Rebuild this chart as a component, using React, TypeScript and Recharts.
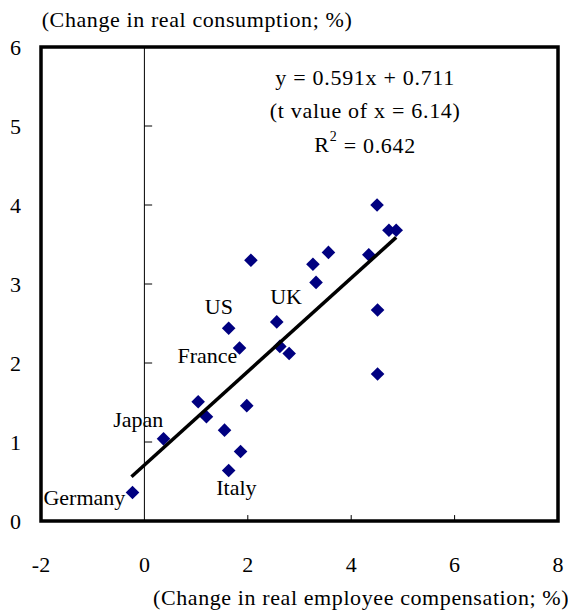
import React from "react";
import {
  ScatterChart,
  Scatter,
  XAxis,
  YAxis,
  ReferenceLine,
  ReferenceArea,
} from "recharts";

// Data (change in real employee compensation %, change in real consumption %)
const compensation = [4.5, 4.73, 4.87, 3.56, 4.34, 2.06, 3.26, 3.32, 4.51, 2.56, 1.63, 1.84, 2.62, 2.8, 4.51, 1.04, 1.98, 1.2, 1.55, 0.37, 1.86, 1.63, -0.23];
const consumption = [4.0, 3.68, 3.68, 3.4, 3.37, 3.3, 3.25, 3.02, 2.67, 2.52, 2.44, 2.19, 2.21, 2.12, 1.86, 1.51, 1.46, 1.32, 1.15, 1.04, 0.88, 0.64, 0.36];

const fitX = [-0.25, 4.87];
const fitY = [0.56, 3.59];

const xTicks = [-2, 0, 2, 4, 6, 8];
const yTicks = [0, 1, 2, 3, 4, 5, 6];
const innerXTicks = [2, 4, 6];
const innerYTicks = [1, 2, 3, 4, 5];

const countryNames = ["Germany", "Italy", "Japan", "France", "US", "UK"];
const countryLabelX = [-0.37, 1.78, -0.12, 1.22, 1.44, 2.74];
const countryLabelY = [0.3, 0.42, 1.28, 2.1, 2.71, 2.84];

const equationLines = ["y = 0.591x + 0.711", "(t value of x = 6.14)", "R2 = 0.642"];
const equationX = 4.27;
const equationY = [5.61, 5.19, 4.76];

const points = compensation.map((x, i) => ({ x, y: consumption[i] }));
const fitLine = fitX.map((x, i) => ({ x, y: fitY[i] }));
const countryLabels = countryNames.map((name, i) => ({
  x: countryLabelX[i],
  y: countryLabelY[i],
  name,
  anchor: i === 0 ? "end" : "middle",
}));
const equation = equationLines.map((name, i) => ({ x: equationX, y: equationY[i], name }));

const FONT = '"Liberation Serif", "Times New Roman", serif';
const FS = 22;
const NAVY = "#000080";

const Diamond = (props: any) => {
  const { cx, cy } = props;
  if (cx == null || cy == null) return null;
  const h = 6.8;
  return (
    <polygon
      points={`${cx},${cy - h} ${cx + h},${cy} ${cx},${cy + h} ${cx - h},${cy}`}
      fill={NAVY}
    />
  );
};

const CountryText = (props: any) => {
  const { cx, cy, payload } = props;
  if (cx == null || cy == null) return null;
  return (
    <text
      x={cx}
      y={cy}
      textAnchor={payload.anchor}
      dominantBaseline="central"
      fontFamily={FONT}
      fontSize={FS}
      fill="#000"
    >
      {payload.name}
    </text>
  );
};

const EquationText = (props: any) => {
  const { cx, cy, payload } = props;
  if (cx == null || cy == null) return null;
  const name: string = payload.name;
  if (name.startsWith("R2")) {
    return (
      <text
        x={cx}
        y={cy}
        textAnchor="middle"
        dominantBaseline="central"
        fontFamily={FONT}
        fontSize={FS}
        letterSpacing={0.7}
        fill="#000"
      >
        R
        <tspan dy={-9} fontSize={14}>
          2
        </tspan>
        <tspan dy={9}>{name.slice(2)}</tspan>
      </text>
    );
  }
  return (
    <text
      x={cx}
      y={cy}
      textAnchor="middle"
      dominantBaseline="central"
      fontFamily={FONT}
      fontSize={FS}
      letterSpacing={0.7}
      fill="#000"
    >
      {name}
    </text>
  );
};

const XTick = (props: any) => {
  const { x, y, payload } = props;
  return (
    <text x={x} y={y + 43} textAnchor="middle" dominantBaseline="central" fontFamily={FONT} fontSize={FS} fill="#000">
      {payload.value}
    </text>
  );
};

const YTick = (props: any) => {
  const { y, payload } = props;
  return (
    <text x={13} y={y} textAnchor="end" dominantBaseline="central" fontFamily={FONT} fontSize={FS} fill="#000">
      {payload.value}
    </text>
  );
};

const NoShape = () => <g />;

export default function App() {
  return (
    <div style={{ width: 568, height: 604 }}>
      <ScatterChart width={568} height={604} margin={{ top: 39, right: 18, bottom: 0, left: 0 }}>
        <XAxis
          type="number"
          dataKey="x"
          domain={[-2, 8]}
          ticks={xTicks}
          interval={0}
          axisLine={false}
          tickLine={false}
          tickSize={0}
          tickMargin={0}
          height={91}
          tick={<XTick />}
          allowDataOverflow
          label={{
            content: () => (
              <text
                x={145}
                y={589}
                textAnchor="start"
                dominantBaseline="central"
                fontFamily={FONT}
                fontSize={FS}
                letterSpacing={0.6}
                fill="#000"
              >
                (Change in real employee compensation; %)
              </text>
            ),
          }}
        />
        <YAxis
          type="number"
          dataKey="y"
          domain={[0, 6]}
          ticks={yTicks}
          interval={0}
          axisLine={false}
          tickLine={false}
          tickSize={0}
          width={33}
          tick={<YTick />}
          allowDataOverflow
          label={{
            content: () => (
              <text
                x={33.7}
                y={11}
                textAnchor="start"
                dominantBaseline="central"
                fontFamily={FONT}
                fontSize={FS}
                letterSpacing={0.6}
                fill="#000"
              >
                (Change in real consumption; %)
              </text>
            ),
          }}
        />
        <ReferenceLine x={0} stroke="#000" strokeWidth={1} ifOverflow="visible" />
        {innerXTicks.map((t) => (
          <ReferenceLine
            key={"xt" + t}
            segment={[
              { x: t, y: 0 },
              { x: t, y: 0.075 },
            ]}
            stroke="#000"
            strokeWidth={1}
            ifOverflow="visible"
          />
        ))}
        {innerYTicks.map((t) => (
          <ReferenceLine
            key={"yt" + t}
            segment={[
              { x: 0, y: t },
              { x: 0.15, y: t },
            ]}
            stroke="#000"
            strokeWidth={1}
            ifOverflow="visible"
          />
        ))}
        <ReferenceArea
          x1={-2}
          x2={8}
          y1={0}
          y2={6}
          fill="none"
          fillOpacity={0}
          stroke="#000"
          strokeWidth={3.5}
          ifOverflow="visible"
        />
        <Scatter data={points} shape={<Diamond />} isAnimationActive={false} />
        <Scatter
          data={fitLine}
          line={{ stroke: "#000", strokeWidth: 3.5 }}
          lineType="joint"
          shape={<NoShape />}
          isAnimationActive={false}
        />
        <Scatter data={countryLabels} shape={<CountryText />} isAnimationActive={false} />
        <Scatter data={equation} shape={<EquationText />} isAnimationActive={false} />
      </ScatterChart>
    </div>
  );
}
